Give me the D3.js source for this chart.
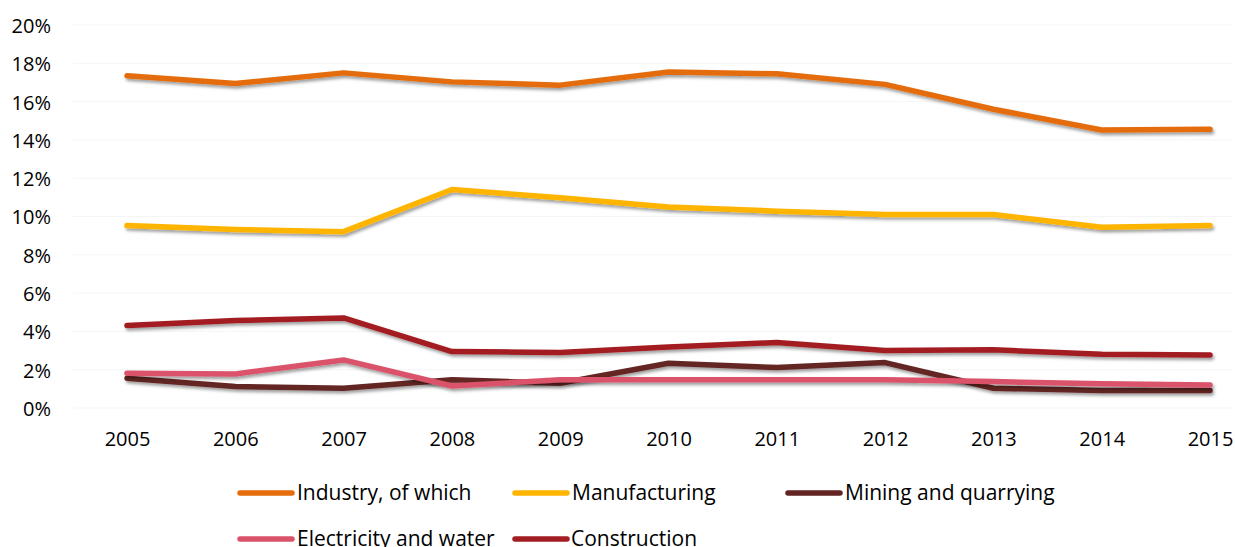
<!DOCTYPE html>
<html>
<head>
<meta charset="utf-8">
<script src="https://cdn.jsdelivr.net/npm/d3@7"></script>
<style>
  html, body { margin: 0; padding: 0; background: #fff; }
  svg { display: block; font-family: "Open Sans", Lato, sans-serif; }
</style>
</head>
<body>
<svg id="chart" width="1235" height="547"></svg>
<script>
// Share of GDP by sector, 2005–2015
const years = [2005, 2006, 2007, 2008, 2009, 2010, 2011, 2012, 2013, 2014, 2015];
const industry      = [17.35, 16.94, 17.50, 17.03, 16.86, 17.55, 17.45, 16.90, 15.60, 14.52, 14.55];
const manufacturing = [9.53, 9.32, 9.21, 11.41, 10.98, 10.50, 10.28, 10.10, 10.10, 9.44, 9.53];
const mining        = [1.55, 1.12, 1.03, 1.47, 1.29, 2.34, 2.11, 2.37, 1.03, 0.91, 0.91];
const electricity   = [1.82, 1.78, 2.51, 1.15, 1.47, 1.47, 1.47, 1.47, 1.38, 1.26, 1.20];
const construction  = [4.31, 4.57, 4.70, 2.95, 2.90, 3.18, 3.42, 3.00, 3.04, 2.81, 2.77];
const yTicks = [0, 2, 4, 6, 8, 10, 12, 14, 16, 18, 20];

const seriesNames  = ["Industry, of which", "Manufacturing", "Mining and quarrying", "Electricity and water", "Construction"];
const seriesValues = [industry, manufacturing, mining, electricity, construction];
const seriesColors = ["#E46C0A", "#FFB400", "#632523", "#DA536B", "#A21E22"];

const svg = d3.select("#chart");
const plot = { left: 73, right: 1232, top: 25, bottom: 408 };

const x = d3.scalePoint().domain(years).range([127, 1210]);
const y = d3.scaleLinear().domain([0, 20]).range([plot.bottom, plot.top]);

// soft drop shadow under each line
const defs = svg.append("defs");
const f = defs.append("filter").attr("id", "shadow")
  .attr("x", "-5%").attr("y", "-50%").attr("width", "110%").attr("height", "200%");
f.append("feDropShadow").attr("dx", 1.5).attr("dy", 2.5)
  .attr("stdDeviation", 1.6).attr("flood-color", "#000").attr("flood-opacity", 0.38);

// faint horizontal gridlines
svg.append("g").selectAll("line").data(yTicks).join("line")
  .attr("x1", plot.left).attr("x2", plot.right)
  .attr("y1", d => y(d)).attr("y2", d => y(d))
  .attr("stroke", "#f5f5f5").attr("stroke-width", 1);

// y axis labels
const yAxis = d3.axisLeft(y).tickValues(yTicks).tickSize(0).tickPadding(0)
  .tickFormat(d => d + "%");
svg.append("g").attr("transform", "translate(51,1)").call(yAxis)
  .call(g => g.select(".domain").remove())
  .call(g => g.selectAll("text").attr("font-size", 20).attr("fill", "#000")
    .attr("font-family", "'Open Sans', sans-serif"));

// x axis labels
const xAxis = d3.axisBottom(x).tickSize(0).tickPadding(0);
svg.append("g").attr("transform", "translate(0,432)").call(xAxis)
  .call(g => g.select(".domain").remove())
  .call(g => g.selectAll("text").attr("font-size", 20).attr("fill", "#000")
    .attr("font-family", "'Open Sans', sans-serif"));

// lines
const line = d3.line().x((d, i) => x(years[i])).y(d => y(d));
svg.append("g").selectAll("path").data(seriesValues).join("path")
  .attr("d", d => line(d))
  .attr("fill", "none")
  .attr("stroke", (d, i) => seriesColors[i])
  .attr("stroke-width", 5.5)
  .attr("stroke-linejoin", "round")
  .attr("stroke-linecap", "round")
  .attr("filter", "url(#shadow)");

// legend
const legendPos = [
  { x: 238, y: 493, tx: 59 }, { x: 513, y: 493, tx: 59 }, { x: 786, y: 493, tx: 59 },
  { x: 238, y: 539, tx: 59 }, { x: 513, y: 539, tx: 58 }
];
const lg = svg.append("g").selectAll("g").data(seriesNames).join("g")
  .attr("transform", (d, i) => `translate(${legendPos[i].x},${legendPos[i].y})`);
lg.append("line").attr("x1", 2).attr("x2", 54).attr("y1", 0).attr("y2", 0)
  .attr("stroke", (d, i) => seriesColors[i]).attr("stroke-width", 5.5)
  .attr("stroke-linecap", "round");
lg.append("text").attr("x", (d, i) => legendPos[i].tx).attr("y", 7)
  .attr("font-size", 21).attr("fill", "#000").text(d => d);
</script>
</body>
</html>
